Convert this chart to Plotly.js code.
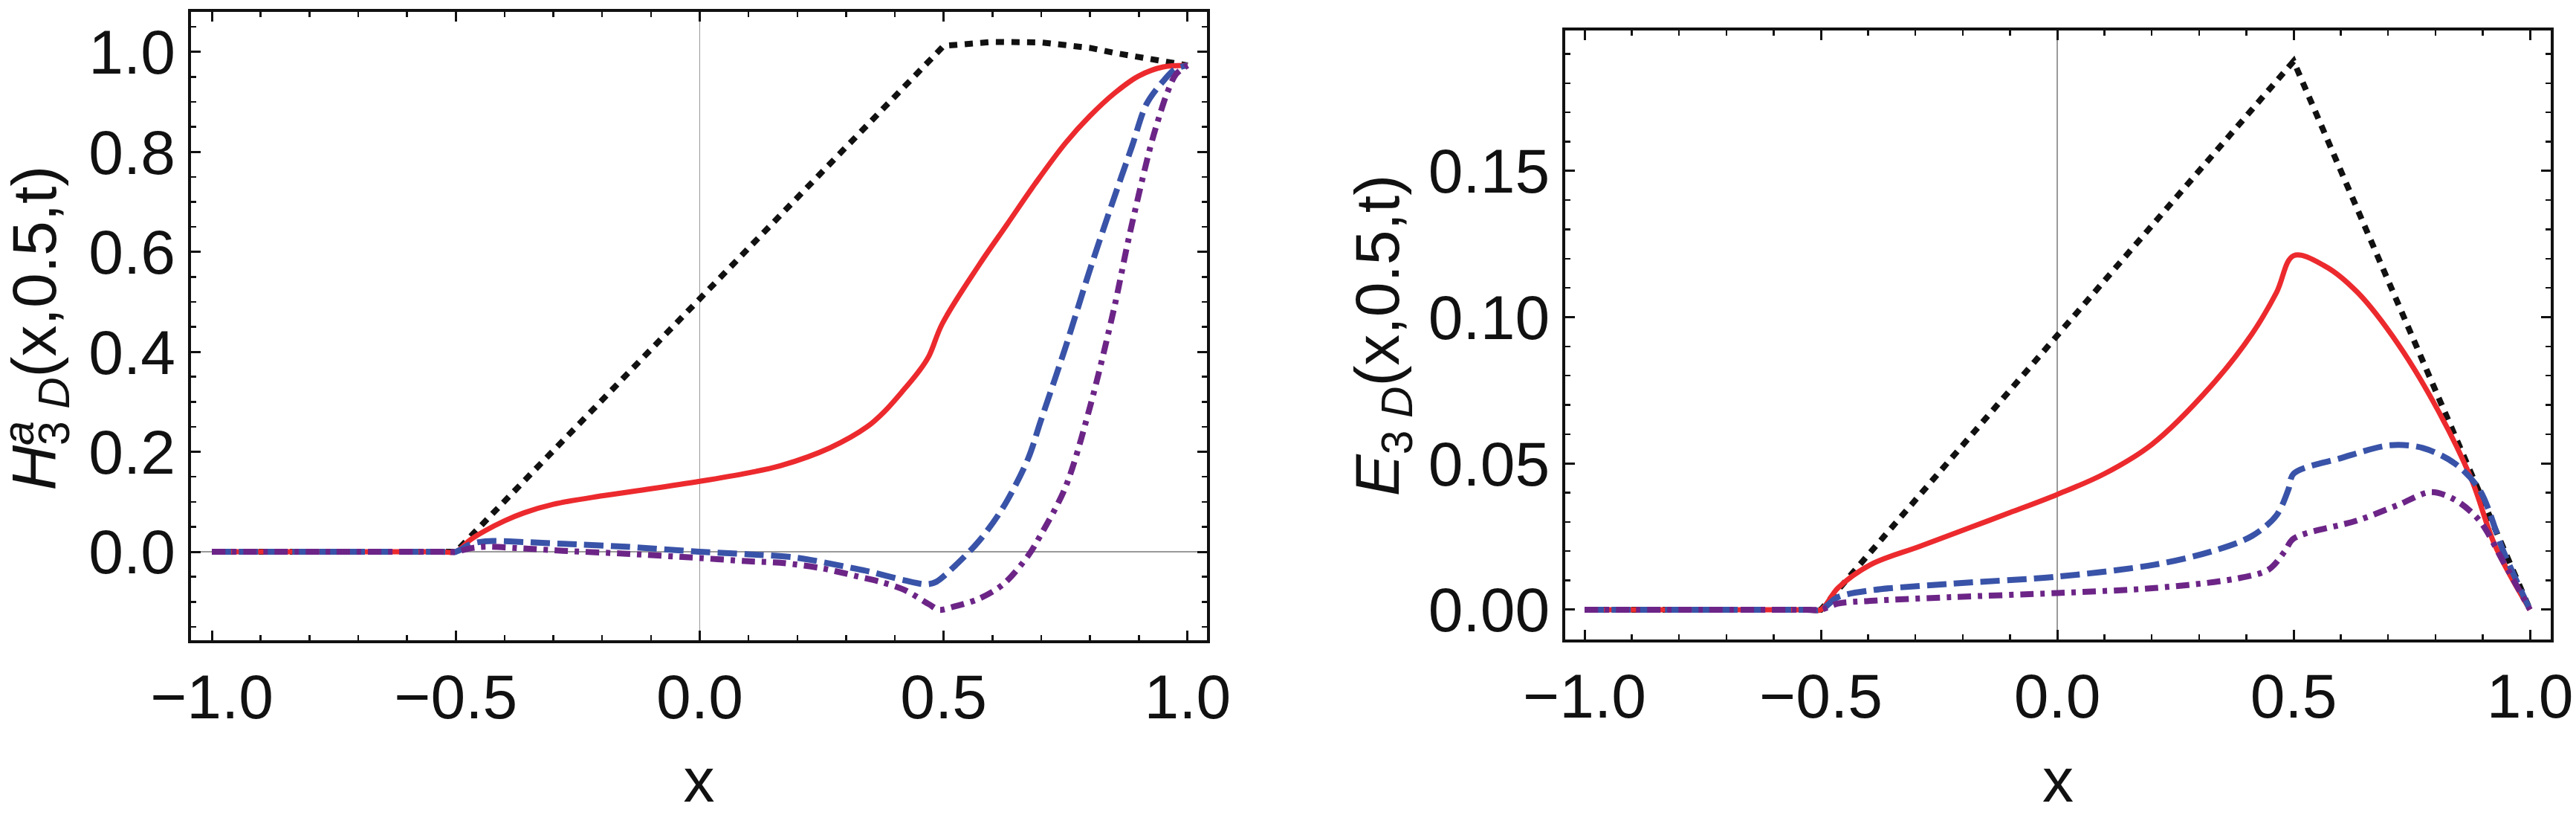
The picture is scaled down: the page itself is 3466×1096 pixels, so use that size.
<!DOCTYPE html>
<html>
<head>
<meta charset="utf-8">
<script src="https://cdn.plot.ly/plotly-3.0.1.min.js"></script>
<style>
  html, body { margin: 0; padding: 0; background: #fff; }
  #graph { width: 3466px; height: 1096px; }
</style>
</head>
<body>
<div id="graph"></div>
<script>
// Left panel: H^a_3D(x, 0.5, t), four curves
const hBlackX = [-1, -0.5, 0.5, 0.6, 0.7, 0.8, 0.85, 0.9, 0.95, 1.0];
const hBlackY = [0, 0, 1.012, 1.02, 1.019, 1.008, 0.998, 0.99, 0.981, 0.973];

const hRedX = [-1, -0.75, -0.53, -0.5, -0.47, -0.44, -0.4, -0.36, -0.3, -0.2, -0.1, 0, 0.1, 0.165, 0.267, 0.343, 0.38, 0.419, 0.45, 0.47, 0.497, 0.572, 0.63, 0.688, 0.75, 0.8, 0.851, 0.9, 0.95, 1.0];
const hRedY = [0, 0, 0, 0, 0.024, 0.042, 0.062, 0.078, 0.095, 0.112, 0.126, 0.141, 0.158, 0.172, 0.208, 0.25, 0.282, 0.325, 0.362, 0.392, 0.456, 0.573, 0.655, 0.737, 0.818, 0.872, 0.918, 0.952, 0.97, 0.973];

const hBlueX = [-1, -0.75, -0.53, -0.5, -0.47, -0.44, -0.35, -0.28, -0.15, 0, 0.1, 0.2, 0.3, 0.35, 0.419, 0.465, 0.485, 0.52, 0.572, 0.622, 0.673, 0.698, 0.75, 0.8, 0.85, 0.886, 0.916, 0.953, 0.975, 1.0];
const hBlueY = [0, 0, 0, 0, 0.015, 0.021, 0.019, 0.016, 0.01, 0.0, -0.005, -0.012, -0.03, -0.04, -0.057, -0.065, -0.06, -0.031, 0.021, 0.089, 0.186, 0.259, 0.41, 0.565, 0.71, 0.811, 0.896, 0.945, 0.966, 0.973];

const hPurpleX = [-1, -0.75, -0.53, -0.5, -0.47, -0.44, -0.35, -0.28, -0.15, 0, 0.1, 0.165, 0.25, 0.318, 0.37, 0.419, 0.47, 0.49, 0.52, 0.572, 0.622, 0.673, 0.698, 0.75, 0.8, 0.85, 0.88, 0.924, 0.942, 0.957, 0.976, 1.0];
const hPurpleY = [0, 0, 0, 0, 0.007, 0.01, 0.006, 0.002, -0.004, -0.0125, -0.019, -0.022, -0.033, -0.048, -0.06, -0.076, -0.105, -0.116, -0.11, -0.094, -0.065, -0.008, 0.032, 0.13, 0.29, 0.49, 0.63, 0.811, 0.871, 0.915, 0.955, 0.973];

// Right panel: E_3D(x, 0.5, t)
const eBlackX = [-1, -0.5, 0.5, 1.0];
const eBlackY = [0, 0, 0.1875, 0];

const eRedX = [-1, -0.75, -0.53, -0.5, -0.464, -0.395, -0.292, -0.189, -0.1, 0, 0.1, 0.2, 0.326, 0.412, 0.464, 0.5, 0.567, 0.635, 0.721, 0.807, 0.876, 0.927, 1.0];
const eRedY = [0, 0, 0, 0, 0.0074, 0.0154, 0.0216, 0.0278, 0.0332, 0.0394, 0.0465, 0.0565, 0.0766, 0.0943, 0.1085, 0.121, 0.1174, 0.1085, 0.0908, 0.0677, 0.0447, 0.0216, 0];

const eBlueX = [-1, -0.75, -0.53, -0.5, -0.464, -0.395, -0.223, 0, 0.206, 0.326, 0.412, 0.464, 0.489, 0.5, 0.6, 0.704, 0.773, 0.841, 0.893, 0.944, 1.0];
const eBlueY = [0, 0, 0, 0, 0.0043, 0.0066, 0.0089, 0.0113, 0.0154, 0.0199, 0.0252, 0.0323, 0.0411, 0.0465, 0.0518, 0.0562, 0.0553, 0.05, 0.0411, 0.0199, 0];

const ePurpleX = [-1, -0.75, -0.53, -0.5, -0.464, -0.395, -0.223, 0, 0.206, 0.378, 0.447, 0.481, 0.5, 0.635, 0.721, 0.79, 0.841, 0.893, 0.944, 1.0];
const ePurpleY = [0, 0, 0, 0, 0.0021, 0.003, 0.0043, 0.0057, 0.0074, 0.0106, 0.0137, 0.0199, 0.0243, 0.0305, 0.0358, 0.0402, 0.0376, 0.0305, 0.0163, 0];

const xTicks = [-1.0, -0.5, 0.0, 0.5, 1.0];

const FONT = 'Liberation Sans, Arial, sans-serif';
const INK = '#111';

// line looks, Mathematica-ish
const black = { color: '#111111', width: 8, dash: '11px,10px' };
const red = { color: '#EC2A2E', width: 7, shape: 'spline', smoothing: 1 };
const blue = { color: '#3953A8', width: 8, dash: '26px,10px', shape: 'spline', smoothing: 0.9 };
const purple = { color: '#6C2587', width: 8, dash: '18px,9px,6px,9px', shape: 'spline', smoothing: 0.9 };

function curve(x, y, line, xa, ya) {
  return { x: x, y: y, mode: 'lines', line: line, xaxis: xa, yaxis: ya, hoverinfo: 'skip', showlegend: false };
}

// same order as the original: black at the bottom, purple on top
const traces = [
  curve(hBlackX, hBlackY, black, 'x', 'y'),
  curve(hRedX, hRedY, red, 'x', 'y'),
  curve(hBlueX, hBlueY, blue, 'x', 'y'),
  curve(hPurpleX, hPurpleY, purple, 'x', 'y'),
  curve(eBlackX, eBlackY, black, 'x2', 'y2'),
  curve(eRedX, eRedY, red, 'x2', 'y2'),
  curve(eBlueX, eBlueY, blue, 'x2', 'y2'),
  curve(ePurpleX, ePurpleY, purple, 'x2', 'y2'),
];

function frameAxis(extra) {
  return Object.assign({
    showline: true, linewidth: 4, linecolor: INK, mirror: 'ticks',
    ticks: 'inside', ticklen: 13, tickwidth: 3, tickcolor: INK,
    showgrid: false,
    zeroline: true, zerolinecolor: '#9a9a9a', zerolinewidth: 1.5,
    tickfont: { family: FONT, size: 84, color: INK },
    fixedrange: true,
  }, extra);
}

const layout = {
  width: 3466, height: 1096,
  margin: { l: 0, r: 0, t: 0, b: 0, pad: 0 },
  paper_bgcolor: '#fff', plot_bgcolor: '#fff',
  font: { family: FONT, color: INK },
  xaxis: frameAxis({
    domain: [0.0741, 0.4686], range: [-1.043, 1.040], anchor: 'y',
    tickvals: xTicks, tickformat: '.1f',
    minor: { dtick: 0.1, ticks: 'inside', ticklen: 7, tickwidth: 2.5, tickcolor: INK },
    title: { text: 'x', font: { family: FONT, size: 84, color: INK }, standoff: 40 },
  }),
  yaxis: frameAxis({
    domain: [0.2144, 0.9854], range: [-0.177, 1.08], anchor: 'x',
    dtick: 0.2, tick0: 0, tickformat: '.1f',
    minor: { dtick: 0.05, ticks: 'inside', ticklen: 7, tickwidth: 2.5, tickcolor: INK },
  }),
  xaxis2: frameAxis({
    domain: [0.6076, 0.9902], range: [-1.041, 1.044], anchor: 'y2',
    tickvals: xTicks, tickformat: '.1f',
    minor: { dtick: 0.1, ticks: 'inside', ticklen: 7, tickwidth: 2.5, tickcolor: INK },
    title: { text: 'x', font: { family: FONT, size: 84, color: INK }, standoff: 40 },
  }),
  yaxis2: frameAxis({
    domain: [0.2153, 0.9626], range: [-0.0102, 0.198], anchor: 'x2',
    dtick: 0.05, tick0: 0, tickformat: '.2f', zeroline: false,
    minor: { dtick: 0.01, ticks: 'inside', ticklen: 7, tickwidth: 2.5, tickcolor: INK },
  }),
  // y titles as rotated annotations so the "a" can sit over the subscript
  annotations: [
    {
      text: '<i>H</i><sub>3 <i>D</i></sub>(x,0.5,t)', xref: 'paper', yref: 'paper',
      x: 0.015, y: 0.598, xanchor: 'center', yanchor: 'middle', textangle: -90,
      showarrow: false, font: { family: FONT, size: 84, color: INK },
    },
    {
      text: '<i>a</i>', xref: 'paper', yref: 'paper',
      x: 0.0072, y: 0.469, xanchor: 'center', yanchor: 'middle', textangle: -90,
      showarrow: false, font: { family: FONT, size: 59, color: INK },
    },
    {
      text: '<i>E</i><sub>3 <i>D</i></sub>(x,0.5,t)', xref: 'paper', yref: 'paper',
      x: 0.5364, y: 0.5885, xanchor: 'center', yanchor: 'middle', textangle: -90,
      showarrow: false, font: { family: FONT, size: 84, color: INK },
    },
  ],
};

Plotly.newPlot('graph', traces, layout, { displayModeBar: false, staticPlot: true });
</script>
</body>
</html>
